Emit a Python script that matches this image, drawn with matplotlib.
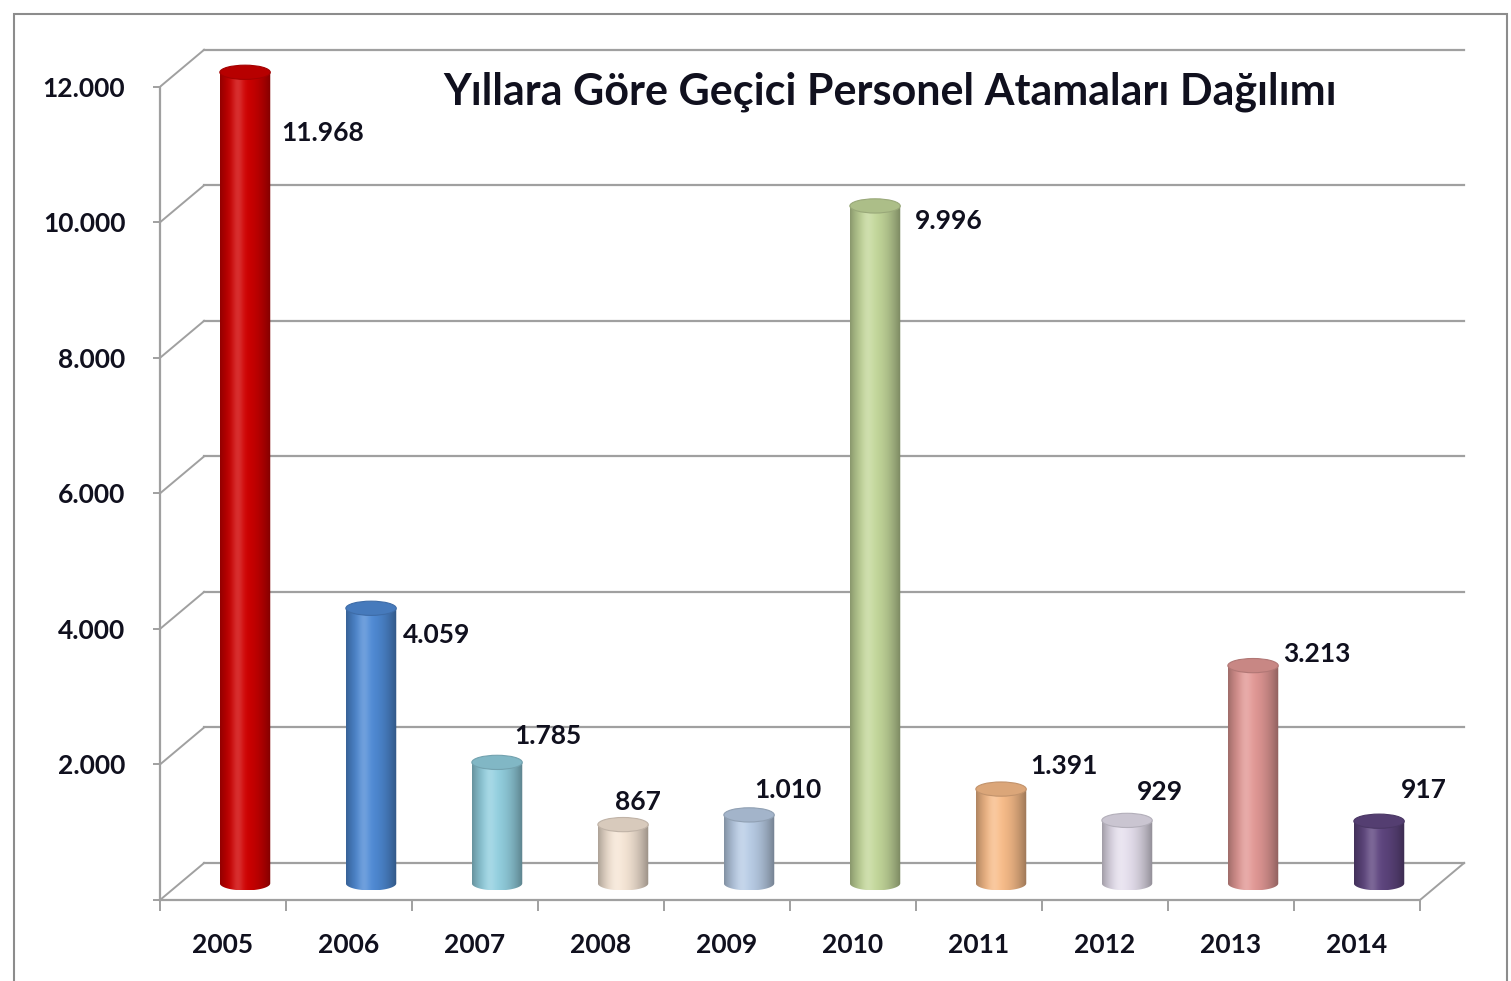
import numpy as np
import matplotlib.pyplot as plt
from matplotlib.patches import Ellipse, PathPatch, Rectangle
from matplotlib.path import Path
from matplotlib.colors import to_rgb

plt.rcParams['font.family'] = ['Lato', 'DejaVu Sans']

# data
years = ['2005', '2006', '2007', '2008', '2009', '2010', '2011', '2012', '2013', '2014']
appointments = [11968, 4059, 1785, 867, 1010, 9996, 1391, 929, 3213, 917]
bar_colors = ['#d00000', '#4f8bd6', '#93d0e0', '#f6e6d6', '#b9cde6',
              '#c4d89b', '#f9bd8a', '#e6e0ee', '#e39996', '#5f4680']
y_ticks = [0, 2000, 4000, 6000, 8000, 10000, 12000]
title = 'Yıllara Göre Geçici Personel Atamaları Dağılımı'

# where the value labels sit, in pixels from the top of each cylinder
label_offsets = [(78, -61), (66, -27), (51, 26), (15, 23), (39, 25),
                 (74, -15), (63, 23), (33, 28), (64, 12), (45, 31)]

DX, DY = 0.35, 546          # depth of the fake 3d box
BAR_W, ELL_H = 0.40, 210
BASE = DY * 0.45
GRID = '#a0a0a0'
TXT = '#10101e'


def fmt(v):
    return f'{v:,}'.replace(',', '.')


def shade_strip(color, n=200):
    c = np.array(to_rgb(color))
    u = np.linspace(0, 1, n)
    s = np.where(u < 0.4, 1 - 0.30 * ((0.4 - u) / 0.4) ** 2,
                 1 - 0.38 * ((u - 0.4) / 0.6) ** 2)
    rgb = c[None, :] * s[:, None]
    hl = 0.18 * np.exp(-((u - 0.35) / 0.12) ** 2)
    rgb = rgb + (1 - rgb) * hl[:, None]
    return np.clip(rgb, 0, 1)[None, :, :]


def cylinder(ax, xc, value, color):
    top = BASE + value
    xl, xr = xc - BAR_W / 2, xc + BAR_W / 2
    t = np.linspace(np.pi, 2 * np.pi, 60)
    bottom = np.column_stack([xc + BAR_W / 2 * np.cos(t), BASE + ELL_H / 2 * np.sin(t)])
    verts = np.vstack([[xl, top], bottom, [xr, top], [xl, top]])
    body = PathPatch(Path(verts), facecolor='none', edgecolor='none')
    ax.add_patch(body)
    im = ax.imshow(shade_strip(color), extent=[xl, xr, BASE - ELL_H / 2, top],
                   aspect='auto', interpolation='bilinear', zorder=3)
    im.set_clip_path(body)
    c = np.array(to_rgb(color))
    ax.add_patch(Ellipse((xc, top), BAR_W, ELL_H, facecolor=c * 0.88,
                         edgecolor=c * 0.78, lw=0.8, zorder=4))


fig = plt.figure(figsize=(15.11, 9.81), dpi=100)
ax = fig.add_axes([160 / 1511, 81 / 981, 1323 / 1511, 881 / 981])
ax.set_xlim(-0.5, 10.0)
ax.set_ylim(0, 13000)

# back wall gridlines and the slanted side lines
for v in y_ticks:
    ax.plot([-0.5, -0.5 + DX], [v, v + DY], color=GRID, lw=1.4, zorder=1)
    ax.plot([-0.5 + DX, 9.5 + DX], [v + DY, v + DY], color=GRID, lw=1.6, zorder=1)
ax.plot([9.5, 9.5 + DX], [0, DY], color=GRID, lw=1.4, zorder=1)

for i, (v, col) in enumerate(zip(appointments, bar_colors)):
    xc = i + DX / 2
    cylinder(ax, xc, v, col)
    ax.annotate(fmt(v), xy=(xc, BASE + v), xytext=label_offsets[i],
                textcoords='offset pixels', ha='center', va='center',
                fontsize=19, fontweight='bold', color=TXT, zorder=5)

for side in ['top', 'right']:
    ax.spines[side].set_visible(False)
ax.spines['left'].set_bounds(0, 12000)
ax.spines['bottom'].set_bounds(-0.5, 9.5)
for side in ['left', 'bottom']:
    ax.spines[side].set_color(GRID)
    ax.spines[side].set_linewidth(1.6)

ax.set_yticks(y_ticks)
ax.set_yticklabels(['' if v == 0 else fmt(v) for v in y_ticks])
ax.set_xticks(np.arange(-0.5, 10, 1))
ax.set_xticklabels([])
ax.set_xticks(range(len(years)), minor=True)
ax.set_xticklabels(years, minor=True)
ax.tick_params(axis='y', length=5, width=1.4, color=GRID, pad=20,
               labelsize=19, labelcolor=TXT)
ax.tick_params(axis='x', which='major', length=8, width=1.4, color=GRID)
ax.tick_params(axis='x', which='minor', length=0, pad=24,
               labelsize=19, labelcolor=TXT)
for lab in ax.get_yticklabels() + ax.get_xticklabels(minor=True):
    lab.set_fontweight('bold')

fig.text(890 / 1511, 1 - 92 / 981, title, ha='center', va='center',
         fontsize=31, fontweight='bold', color=TXT)

# outer chart frame (bottom edge is cut off in the original)
fig.patches.append(Rectangle((14 / 1511, -0.05), 1493 / 1511, 1.05 - 14 / 981,
                             transform=fig.transFigure, fill=False,
                             edgecolor='#8c8c8c', lw=1.5))

fig.savefig('out.png', dpi=100)
